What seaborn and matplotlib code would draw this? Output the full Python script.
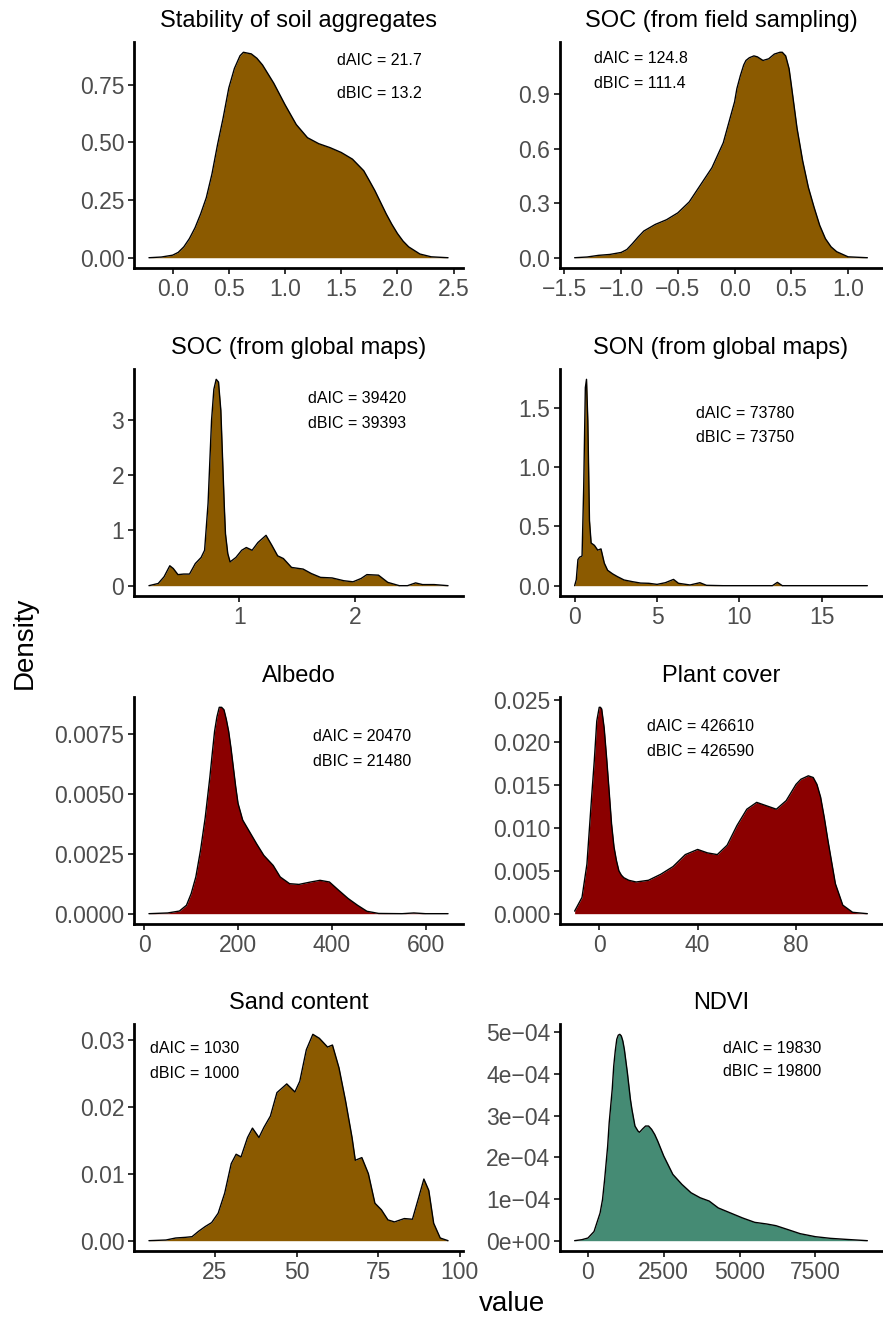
import numpy as np
import pandas as pd
import matplotlib
matplotlib.use("Agg")
import matplotlib.pyplot as plt
import seaborn as sns

# ---- data (density curves, x / density pairs) ----
titles = ["Stability of soil aggregates", "SOC (from field sampling)",
          "SOC (from global maps)", "SON (from global maps)",
          "Albedo", "Plant cover", "Sand content", "NDVI"]

stab_x = [-0.21, -0.1, 0.0, 0.05, 0.1, 0.15, 0.2, 0.25, 0.3, 0.35, 0.4, 0.45, 0.5, 0.55,
          0.6, 0.63, 0.7, 0.75, 0.8, 0.9, 1.0, 1.1, 1.2, 1.3, 1.4, 1.5, 1.6, 1.7, 1.75,
          1.8, 1.85, 1.9, 1.95, 2.0, 2.05, 2.1, 2.2, 2.3, 2.45]
stab_y = [0.0, 0.003, 0.011, 0.023, 0.047, 0.083, 0.13, 0.19, 0.26, 0.362, 0.49, 0.606,
          0.735, 0.82, 0.875, 0.89, 0.883, 0.864, 0.835, 0.756, 0.663, 0.577, 0.52,
          0.494, 0.477, 0.456, 0.427, 0.377, 0.334, 0.29, 0.24, 0.19, 0.145, 0.105,
          0.072, 0.047, 0.016, 0.004, 0.0]

socf_x = [-1.41, -1.3, -1.2, -1.1, -1.0, -0.95, -0.9, -0.85, -0.8, -0.7, -0.6, -0.5,
          -0.4, -0.3, -0.2, -0.1, 0.0, 0.02, 0.05, 0.08, 0.1, 0.13, 0.17, 0.2, 0.25,
          0.3, 0.35, 0.4, 0.42, 0.45, 0.48, 0.5, 0.55, 0.6, 0.65, 0.7, 0.75, 0.8,
          0.85, 0.9, 1.0, 1.17]
socf_y = [0.0, 0.004, 0.013, 0.018, 0.029, 0.045, 0.078, 0.114, 0.147, 0.183, 0.209,
          0.247, 0.307, 0.401, 0.495, 0.632, 0.858, 0.93, 1.0, 1.06, 1.085, 1.1, 1.11,
          1.105, 1.085, 1.094, 1.12, 1.13, 1.13, 1.11, 1.04, 0.949, 0.713, 0.532,
          0.387, 0.278, 0.178, 0.105, 0.06, 0.033, 0.005, 0.0]

socg_x = [0.22, 0.3, 0.35, 0.4, 0.43, 0.47, 0.52, 0.57, 0.62, 0.67, 0.7, 0.73, 0.76,
          0.78, 0.8, 0.82, 0.84, 0.87, 0.88, 0.9, 0.92, 0.97, 1.02, 1.06, 1.11, 1.16,
          1.23, 1.28, 1.33, 1.38, 1.45, 1.55, 1.62, 1.7, 1.8, 1.9, 1.98, 2.05, 2.1,
          2.2, 2.28, 2.38, 2.45, 2.52, 2.58, 2.68, 2.8]
socg_y = [0.0, 0.04, 0.16, 0.36, 0.31, 0.2, 0.21, 0.21, 0.4, 0.51, 0.64, 1.49, 2.99,
          3.55, 3.73, 3.68, 3.17, 1.43, 0.94, 0.58, 0.43, 0.51, 0.64, 0.69, 0.64,
          0.78, 0.91, 0.73, 0.54, 0.49, 0.33, 0.3, 0.22, 0.15, 0.14, 0.09, 0.07,
          0.13, 0.2, 0.19, 0.06, 0.0, 0.0, 0.05, 0.02, 0.02, 0.0]

son_x = [0.0, 0.1, 0.2, 0.3, 0.45, 0.55, 0.65, 0.72, 0.8, 0.9, 1.0, 1.2, 1.4, 1.6,
         1.8, 2.0, 2.3, 2.6, 3.0, 3.5, 4.0, 4.5, 5.0, 5.5, 6.0, 6.3, 7.0, 7.6, 8.0,
         9.0, 12.0, 12.3, 12.6, 17.76]
son_y = [0.0, 0.05, 0.22, 0.24, 0.25, 0.83, 1.67, 1.74, 1.39, 0.55, 0.36, 0.34, 0.3,
         0.31, 0.19, 0.13, 0.10, 0.076, 0.048, 0.034, 0.022, 0.02, 0.011, 0.025,
         0.053, 0.02, 0.006, 0.025, 0.003, 0.0, 0.0, 0.028, 0.0, 0.0]

alb_x = [10, 50, 75, 90, 100, 110, 120, 130, 140, 145, 150, 155, 160, 165, 170, 175,
         180, 185, 190, 195, 200, 210, 225, 240, 255, 265, 275, 290, 310, 330, 355,
         375, 395, 415, 435, 455, 475, 500, 550, 575, 600, 648]
alb_y = [0.0, 0.00003, 0.00011, 0.00035, 0.00083, 0.00153, 0.00264, 0.0040, 0.0057,
         0.00667, 0.0076, 0.0082, 0.0086, 0.0086, 0.0085, 0.0081, 0.0076, 0.0069,
         0.0061, 0.0053, 0.0046, 0.0039, 0.0034, 0.0029, 0.00243, 0.00222, 0.00201,
         0.00153, 0.00125, 0.00122, 0.00132, 0.00139, 0.00132, 0.00097, 0.00063,
         0.00035, 0.0001, 0.00001, 0.0, 0.00003, 0.0, 0.0]

plant_x = [-10, -7, -5, -3, -2, -1, 0, 0.5, 1, 2, 3, 4, 5, 6, 7, 8, 9, 10, 12, 15,
           20, 25, 30, 35, 40, 44, 48, 52, 56, 60, 64, 67, 72, 76, 80, 82, 85, 87,
           88.5, 90, 91.5, 93, 96, 99, 103, 109]
plant_y = [0.0003, 0.0019, 0.0058, 0.014, 0.0179, 0.0225, 0.0241, 0.0241, 0.0239,
           0.0217, 0.0182, 0.0144, 0.0105, 0.0078, 0.0062, 0.005, 0.0045, 0.0042,
           0.0039, 0.0037, 0.0039, 0.0046, 0.0055, 0.0069, 0.0075, 0.0071, 0.0069,
           0.008, 0.0103, 0.0122, 0.013, 0.0127, 0.0122, 0.0132, 0.0151, 0.0157,
           0.0161, 0.0159, 0.0151, 0.0136, 0.0112, 0.0085, 0.0035, 0.001, 0.00016,
           0.0]

sand_x = [4.8, 10, 13, 16, 18, 20, 22, 24, 26, 28, 30, 31.5, 33, 35, 36.5, 38.5, 40,
          42, 44, 47, 49.5, 51, 53, 55, 57, 59.5, 61, 63, 65, 67, 68, 70, 72, 74, 76,
          78, 80, 83, 85.5, 87.5, 89, 90.5, 92, 94, 96.4]
sand_y = [0.0, 0.0001, 0.0004, 0.0005, 0.0006, 0.0014, 0.0021, 0.0027, 0.0041, 0.0071,
          0.0115, 0.0129, 0.0125, 0.0154, 0.0168, 0.0154, 0.0169, 0.0186, 0.0221,
          0.0234, 0.0222, 0.0238, 0.0285, 0.0308, 0.0302, 0.0289, 0.0292, 0.0258,
          0.0209, 0.0154, 0.012, 0.0124, 0.01, 0.0056, 0.0046, 0.0031, 0.0028, 0.0033,
          0.0032, 0.0066, 0.0092, 0.0075, 0.0026, 0.0004, 0.0]

ndvi_x = [-440, -200, 0, 200, 400, 480, 550, 650, 700, 800, 850, 900, 950, 1000, 1050,
          1100, 1150, 1200, 1300, 1400, 1450, 1550, 1650, 1700, 1800, 1900, 2000,
          2100, 2200, 2300, 2500, 2800, 3100, 3400, 3700, 4000, 4300, 4700, 5100,
          5500, 5900, 6200, 6600, 7000, 7500, 8000, 8500, 9217]
ndvi_y = [0.0, 2.4e-6, 6.4e-6, 2.2e-5, 6.65e-5, 9.85e-5, 1.47e-4, 2.27e-4, 2.83e-4,
          3.63e-4, 4.19e-4, 4.55e-4, 4.83e-4, 4.93e-4, 4.95e-4, 4.91e-4, 4.79e-4,
          4.59e-4, 4.03e-4, 3.39e-4, 3.15e-4, 2.75e-4, 2.63e-4, 2.6e-4, 2.68e-4,
          2.75e-4, 2.75e-4, 2.67e-4, 2.55e-4, 2.39e-4, 2.03e-4, 1.59e-4, 1.35e-4,
          1.15e-4, 1.03e-4, 9.5e-5, 7.85e-5, 6.65e-5, 5.45e-5, 4.4e-5, 4.0e-5,
          3.6e-5, 2.65e-5, 1.68e-5, 9.6e-6, 5.6e-6, 3.2e-6, 0.0]

dAIC = ["21.7", "124.8", "39420", "73780", "20470", "426610", "1030", "19830"]
dBIC = ["13.2", "111.4", "39393", "73750", "21480", "426590", "1000", "19800"]

# tick values / labels per panel
x_ticks = [[0, 0.5, 1, 1.5, 2, 2.5], [-1.5, -1, -0.5, 0, 0.5, 1], [1, 2], [0, 5, 10, 15],
           [0, 200, 400, 600], [0, 40, 80], [25, 50, 75, 100], [0, 2500, 5000, 7500]]
x_labels = [["0.0", "0.5", "1.0", "1.5", "2.0", "2.5"],
            ["\u22121.5", "\u22121.0", "\u22120.5", "0.0", "0.5", "1.0"],
            ["1", "2"], ["0", "5", "10", "15"], ["0", "200", "400", "600"],
            ["0", "40", "80"], ["25", "50", "75", "100"], ["0", "2500", "5000", "7500"]]
y_ticks = [[0, 0.25, 0.5, 0.75], [0, 0.3, 0.6, 0.9], [0, 1, 2, 3], [0, 0.5, 1, 1.5],
           [0, 0.0025, 0.005, 0.0075], [0, 0.005, 0.01, 0.015, 0.02, 0.025],
           [0, 0.01, 0.02, 0.03], [0, 1e-4, 2e-4, 3e-4, 4e-4, 5e-4]]
y_labels = [["0.00", "0.25", "0.50", "0.75"], ["0.0", "0.3", "0.6", "0.9"],
            ["0", "1", "2", "3"], ["0.0", "0.5", "1.0", "1.5"],
            ["0.0000", "0.0025", "0.0050", "0.0075"],
            ["0.000", "0.005", "0.010", "0.015", "0.020", "0.025"],
            ["0.00", "0.01", "0.02", "0.03"],
            ["0e+00", "1e\u221204", "2e\u221204", "3e\u221204", "4e\u221204", "5e\u221204"]]

brown = "#8B5A00"
dred = "#8B0000"
green = "#458B74"
fills = [brown, brown, brown, brown, dred, dred, brown, green]

curves = [(stab_x, stab_y), (socf_x, socf_y), (socg_x, socg_y), (son_x, son_y),
          (alb_x, alb_y), (plant_x, plant_y), (sand_x, sand_y), (ndvi_x, ndvi_y)]

# annotation positions (axes fraction): left x, y of dAIC, y of dBIC
ann_pos = [(0.617, 0.92, 0.774), (0.106, 0.925, 0.818), (0.529, 0.872, 0.762),
           (0.422, 0.806, 0.70), (0.544, 0.828, 0.718), (0.270, 0.868, 0.762),
           (0.049, 0.89, 0.78), (0.506, 0.894, 0.789)]

sns.set_style("ticks")
plt.rcParams['font.family'] = ['Liberation Sans', 'DejaVu Sans']

W, H = 883, 1322
fig = plt.figure(figsize=(W / 100, H / 100), dpi=100)

cols = [(134, 463), (560, 882)]
rows = [(42, 268), (369, 596), (697, 924), (1024, 1251)]

for i in range(8):
    l, r = cols[i % 2]
    t, b = rows[i // 2]
    ax = fig.add_axes([l / W, 1 - b / H, (r - l) / W, (b - t) / H])
    df = pd.DataFrame({"value": curves[i][0], "density": curves[i][1]})
    ax.fill_between(df["value"], 0, df["density"], color=fills[i], linewidth=0)
    sns.lineplot(data=df, x="value", y="density", ax=ax, color="black",
                 linewidth=1.0, sort=False)
    xr = df["value"].max() - df["value"].min()
    ax.set_xlim(df["value"].min() - 0.05 * xr, df["value"].max() + 0.05 * xr)
    ymax = df["density"].max()
    ax.set_ylim(-0.05 * ymax, 1.05 * ymax)
    ax.set_xticks(x_ticks[i])
    ax.set_xticklabels(x_labels[i])
    ax.set_yticks(y_ticks[i])
    ax.set_yticklabels(y_labels[i])
    ax.set_xlabel("")
    ax.set_ylabel("")
    sns.despine(ax=ax)
    for s in ["left", "bottom"]:
        ax.spines[s].set_linewidth(2.0)
        ax.spines[s].set_color("black")
    ax.tick_params(axis="both", length=4, width=1.4, color="#333333",
                   labelsize=16.5, labelcolor="#4D4D4D", pad=3)
    ax.set_title(titles[i], fontsize=17, color="black", pad=11)
    ax.set_facecolor("white")
    ax.grid(False)
    xl, ya, yb = ann_pos[i]
    ax.text(xl, ya, "dAIC = " + dAIC[i], transform=ax.transAxes, ha="left",
            va="center", fontsize=11.5, color="black")
    ax.text(xl, yb, "dBIC = " + dBIC[i], transform=ax.transAxes, ha="left",
            va="center", fontsize=11.5, color="black")

fig.text(25 / W, 1 - 643 / H, "Density", rotation=90, ha="center", va="center",
         fontsize=20, color="black")
fig.text(512 / W, 1 - 1304 / H, "value", ha="center", va="center",
         fontsize=20, color="black")

fig.savefig("out.png", dpi=100, facecolor="white")
